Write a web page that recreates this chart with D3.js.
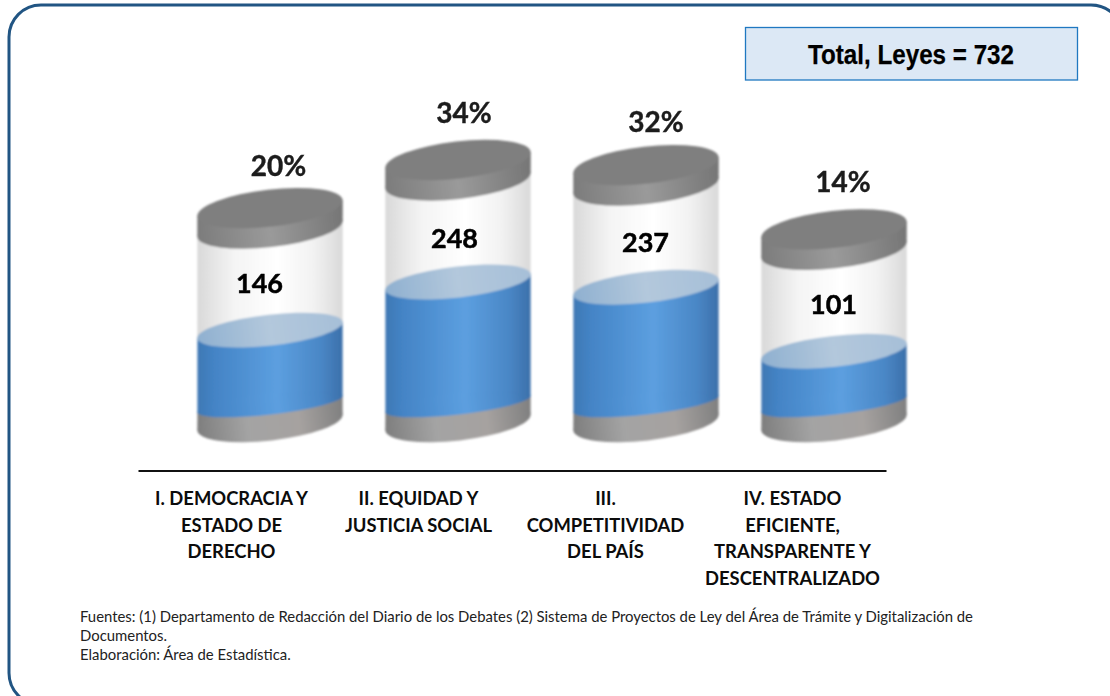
<!DOCTYPE html>
<html><head><meta charset="utf-8">
<script src="https://cdnjs.cloudflare.com/ajax/libs/d3/7.8.5/d3.min.js"></script>
<style>html,body{margin:0;padding:0;background:#fff;overflow:hidden}svg{display:block}</style>
</head><body><svg id="c" width="1110" height="696"></svg>
<script>
const categories = ["I","II","III","IV"];
const categoryLines = [
  ["I. DEMOCRACIA Y","ESTADO DE","DERECHO"],
  ["II. EQUIDAD Y","JUSTICIA SOCIAL"],
  ["III.","COMPETITIVIDAD","DEL PAÍS"],
  ["IV. ESTADO","EFICIENTE,","TRANSPARENTE Y","DESCENTRALIZADO"]
];
const values = [146,248,237,101];
const percents = ["20%","34%","32%","14%"];
const totalLabel = "Total, Leyes = 732";
const footnotes = [
  "Fuentes: (1) Departamento de Redacción del Diario de los Debates (2) Sistema de Proyectos de Ley del Área de Trámite y Digitalización de",
  "Documentos.",
  "Elaboración: Área de Estadística."
];

const svg = d3.select("#c");
const defs = svg.append("defs");
function grad(id, stops){
  const g = defs.append("linearGradient").attr("id",id).attr("x1",0).attr("x2",1).attr("y1",0).attr("y2",0);
  stops.forEach(([o,c])=>g.append("stop").attr("offset",o).attr("stop-color",c));
}
grad("gBlue",[[0,"#3f78b4"],[.12,"#4484c6"],[.55,"#5c9fe0"],[.85,"#4a87c6"],[1,"#3c70aa"]]);
grad("gGlass",[[0,"#d9d9d9"],[.25,"#f4f4f4"],[.55,"#ffffff"],[.8,"#f2f2f2"],[1,"#d9d9d9"]]);
grad("gCap",[[0,"#7c7c7c"],[.5,"#9a9a9a"],[1,"#767676"]]);
grad("gBase",[[0,"#7e7e7e"],[.35,"#a4a4a4"],[.7,"#a6a2a0"],[1,"#808080"]]);
grad("gSurf",[[0,"#8fb0d0"],[.5,"#b3c8dc"],[1,"#a6bfd8"]]);
defs.append("filter").attr("id","soft").append("feGaussianBlur").attr("stdDeviation",0.8);
defs.append("filter").attr("id","softT").append("feGaussianBlur").attr("stdDeviation",0.3);

// frame
svg.append("rect").attr("x",9).attr("y",5).attr("width",1114).attr("height",700).attr("rx",32)
  .attr("fill","#fff").attr("stroke","#215583").attr("stroke-width",3);

// total box
svg.append("rect").attr("x",745.5).attr("y",27.5).attr("width",332).attr("height",52.5)
  .attr("fill","#dce8f5").attr("stroke","#1f78c1").attr("stroke-width",1.3);
svg.append("text").attr("x",911).attr("y",64).attr("text-anchor","middle")
  .attr("font-family","'Liberation Sans'").attr("font-weight","bold").attr("font-size",28.5)
  .attr("fill","#000").attr("stroke","#000").attr("stroke-width",0.25)
  .attr("textLength",206).attr("lengthAdjust","spacingAndGlyphs").text(totalLabel);

// scales
const x = d3.scaleBand().domain(categories).range([197,907]).paddingInner(42/188).paddingOuter(0);
const y = d3.scaleLinear().domain([0,248]).range([399,282]);
const xAxisScale = d3.scaleBand().domain(categories).range([138,886]);

const tilt = -6.5, th = tilt*Math.PI/180;
const semi = ()=>x.bandwidth()/2/Math.cos(th)*0.995;
function extreme(b){
  const a=semi(), t=Math.atan(-(b/a)*Math.tan(th));
  return [a*Math.cos(t)*Math.cos(th)-b*Math.sin(t)*Math.sin(th), a*Math.cos(t)*Math.sin(th)+b*Math.sin(t)*Math.cos(th)];
}
function ell(g,cx,cy,b,fill){
  g.append("ellipse").attr("rx",semi()).attr("ry",b)
   .attr("transform",`translate(${cx},${cy}) rotate(${tilt})`).attr("fill",fill);
}
function drum(g,cx,yTop,bTop,yBot,bBot,fill){
  const [ex,ey]=extreme(bTop), [fx,fy]=extreme(bBot);
  const p=d3.path();
  p.moveTo(cx-ex,yTop-ey); p.lineTo(cx+ex,yTop+ey); p.lineTo(cx+fx,yBot+fy); p.lineTo(cx-fx,yBot-fy); p.closePath();
  g.append("path").attr("d",p.toString()).attr("fill",fill);
  ell(g,cx,yBot,bBot,fill);
}

const capOffset=-122, capDepth=20.5, capRy=18.5, surfRy=15.5, baseTopOffset=5, baseTopRy=10.5, baseDepth=18.5, baseRy=18;
const marks = svg.append("g").attr("filter","url(#soft)");
categories.forEach((c,i)=>{
  const g = marks.append("g");
  const cx = x(c)+x.bandwidth()/2, yv = y(values[i]), yb = y(0)+baseTopOffset, yc = yv+capOffset;
  drum(g,cx,yb,baseTopRy,yb+baseDepth,baseRy,"url(#gBase)");
  drum(g,cx,yc,capRy,yv,surfRy,"url(#gGlass)");
  drum(g,cx,yv,surfRy,yb,baseTopRy,"url(#gBlue)");
  ell(g,cx,yv,surfRy,"url(#gSurf)");
  drum(g,cx,yc,capRy,yc+capDepth,capRy,"url(#gCap)");
  ell(g,cx,yc,capRy,"#7f7f7f");
});

const fontC = "Lato";
const pctDx=[8.5,6,10,9], pctDy=[-32,-37,-33,-37], valDx=[-10.5,-3.5,-.5,-.5], valDy=[-37,-34,-35,-37];
const labels = svg.append("g").attr("font-family",fontC).attr("font-weight","bold").attr("text-anchor","middle").attr("filter","url(#softT)");
categories.forEach((c,i)=>{
  const cx = x(c)+x.bandwidth()/2, yv = y(values[i]);
  labels.append("text").attr("x",cx+pctDx[i]).attr("y",yv+capOffset+pctDy[i]).attr("font-size",28).attr("fill","#1c1c1c").attr("stroke","#1c1c1c").attr("stroke-width",0.4).text(percents[i]);
  labels.append("text").attr("x",cx+valDx[i]).attr("y",yv+valDy[i]).attr("font-size",27).attr("fill","#000").attr("stroke","#000").attr("stroke-width",0.5).text(values[i]);
});

// axis with category labels
const axis = d3.axisBottom(xAxisScale).tickSize(0).tickFormat("");
const ag = svg.append("g").attr("transform","translate(0,470.5)").call(axis);
ag.select(".domain").attr("stroke","#111").attr("stroke-width",2);
ag.selectAll(".tick").each(function(d,i){
  const t = d3.select(this).select("text").attr("y",0).attr("dy",null)
    .attr("font-family",fontC).attr("font-weight","bold").attr("font-size",18.4).attr("fill","#0c0c0c").attr("text-anchor","middle");
  categoryLines[i].forEach((s,k)=>{
    t.append("tspan").attr("x",0).attr("y",34.5+k*26.5).text(s);
  });
});

// footnotes
svg.append("g").attr("font-family",fontC).attr("font-size",14.88).attr("fill","#222")
  .selectAll("text").data(footnotes).join("text").attr("x",80).attr("y",(d,i)=>621.5+i*19).text(d=>d);
</script></body></html>
